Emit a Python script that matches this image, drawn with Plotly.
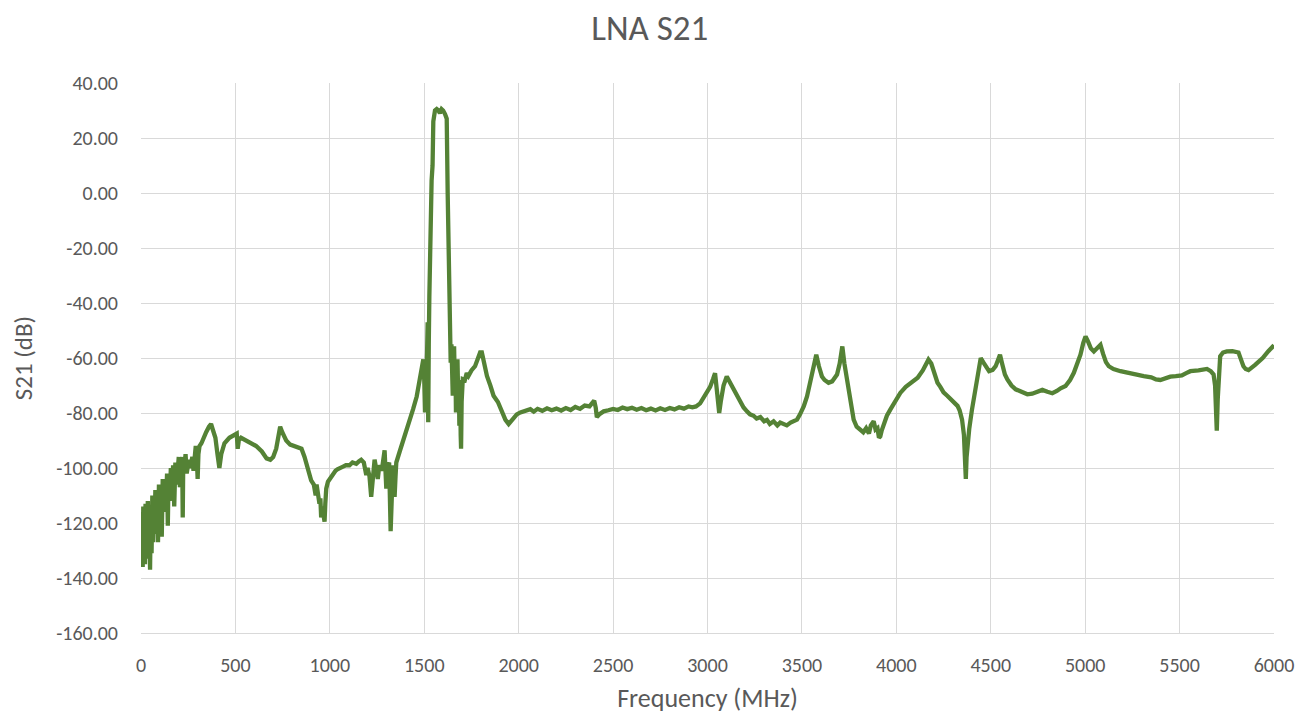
import plotly.graph_objects as go

freq_mhz = [
    0, 3, 6, 9, 12, 15, 18, 21, 24, 27, 30, 33, 36, 40, 44, 48, 52, 56, 60, 64,
    68, 72, 76, 80, 85, 90, 95, 100, 105, 110, 115, 120, 126, 132, 138, 142, 146, 152, 158, 164,
    170, 176, 182, 188, 194, 200, 206, 212, 218, 221, 224, 230, 236, 242, 248, 254, 260, 266, 272, 278,
    284, 290, 296, 300, 304, 310, 320, 330, 345, 360, 371, 380, 394, 405, 415, 425, 442, 468, 490, 507,
    512, 518, 530, 560, 590, 610, 640, 665, 685, 700, 716, 728, 737, 748, 769, 790, 810, 835, 850, 866,
    885, 901, 915, 925, 930, 937, 945, 950, 954, 960, 965, 972, 976, 981, 990, 1000, 1016, 1030, 1040, 1051,
    1070, 1085, 1104, 1120, 1140, 1155, 1166, 1180, 1193, 1200, 1210, 1219, 1225, 1237, 1245, 1254, 1262, 1275, 1290, 1295,
    1299, 1305, 1314, 1322, 1328, 1334, 1340, 1343, 1348, 1352, 1370, 1387, 1400, 1420, 1441, 1460, 1477, 1490, 1495, 1500,
    1504, 1508, 1512, 1515, 1518, 1521, 1524, 1527, 1532, 1534, 1539, 1544, 1548, 1557, 1566, 1575, 1583, 1592, 1600, 1610,
    1619, 1624, 1628, 1633, 1637, 1640, 1644, 1648, 1651, 1655, 1658, 1662, 1665, 1668, 1672, 1676, 1680, 1683, 1686, 1690,
    1693, 1695, 1698, 1701, 1704, 1715, 1725, 1734, 1750, 1769, 1785, 1796, 1805, 1820, 1832, 1850, 1867, 1890, 1911, 1930,
    1947, 1960, 1973, 1990, 2009, 2040, 2062, 2080, 2100, 2125, 2150, 2175, 2200, 2225, 2250, 2275, 2300, 2325, 2350, 2375,
    2390, 2400, 2408, 2414, 2430, 2450, 2475, 2500, 2525, 2550, 2575, 2600, 2625, 2650, 2675, 2700, 2725, 2750, 2775, 2800,
    2825, 2850, 2875, 2900, 2920, 2939, 2961, 2980, 3002, 3014, 3030, 3040, 3050, 3062, 3070, 3085, 3102, 3120, 3138, 3160,
    3191, 3210, 3225, 3244, 3260, 3280, 3300, 3315, 3330, 3350, 3370, 3385, 3403, 3420, 3440, 3455, 3474, 3490, 3510, 3527,
    3545, 3562, 3576, 3590, 3606, 3620, 3641, 3660, 3686, 3700, 3714, 3725, 3739, 3755, 3774, 3790, 3809, 3825, 3840, 3855,
    3865, 3880, 3890, 3900, 3908, 3915, 3922, 3933, 3950, 3968, 3990, 4021, 4050, 4092, 4113, 4140, 4170, 4185, 4200, 4218,
    4233, 4250, 4271, 4290, 4310, 4324, 4335, 4348, 4358, 4364, 4368, 4372, 4378, 4386, 4400, 4412, 4430, 4447, 4460, 4475,
    4491, 4510, 4526, 4540, 4549, 4560, 4575, 4588, 4610, 4632, 4660, 4694, 4720, 4750, 4773, 4800, 4826, 4850, 4870, 4896,
    4920, 4940, 4960, 4975, 4990, 5002, 5015, 5030, 5046, 5065, 5081, 5095, 5110, 5125, 5150, 5187, 5230, 5270, 5310, 5350,
    5375, 5398, 5425, 5451, 5480, 5512, 5535, 5557, 5600, 5645, 5665, 5680, 5688, 5693, 5697, 5702, 5708, 5715, 5730, 5750,
    5780, 5812, 5825, 5838, 5850, 5865, 5900, 5940, 5970, 6000,
]

s21_db = [
    -116, -132, -118, -136, -114, -130, -120, -135, -113, -128, -117, -133, -112, -126, -119, -137, -114, -131, -110, -127,
    -112, -124, -108, -121, -109, -127, -106, -118, -110, -125, -104, -116, -106, -113, -102, -121, -103, -112, -100, -108,
    -99, -114, -98, -106, -101, -96, -107, -97, -96, -118, -96, -100, -95, -102, -99, -97, -100, -98, -96, -101,
    -94, -92, -97, -104, -95, -92, -91, -89, -87, -85, -84, -86, -89, -95, -100, -95, -91, -89, -88, -87.5,
    -93, -90, -89, -90, -91, -92, -94, -96.5, -97, -96, -93, -88, -85, -87, -90, -91.5, -92, -92.5, -93, -96,
    -100.5, -104.5, -106, -110, -106, -109, -113, -111, -118, -114, -117, -119.5, -113, -107.5, -105, -104, -102, -101, -100.5, -100,
    -99.5, -99, -99, -98, -98.5, -97.5, -97, -98, -102.6, -100, -103, -110.5, -104, -97, -100, -104, -99, -101, -93.6, -100,
    -107.5, -100, -98, -123, -105, -99, -104, -110.5, -103, -98, -94, -90.6, -88, -83, -78.6, -74, -67.7, -63, -60.5, -68,
    -79.8, -70, -65, -58, -47, -83.4, -55, -37.6, -10, 1, 4.6, 10, 26, 30, 30.5, 30, 29, 30.5, 30, 28.7,
    27, 0, -14.7, -30, -43.6, -61.7, -55, -70, -73.7, -62, -55.7, -70, -62, -79.8, -66, -60.5, -75, -68, -84.6, -70,
    -88, -93, -76, -70, -67.7, -68, -65.5, -66.5, -64.5, -63, -60, -58, -58, -63, -66.5, -70, -73.7, -76, -79.8, -82.5,
    -84, -83, -82, -80.5, -79.8, -79, -78.6, -79.5, -78.5, -79.2, -78.3, -79.0, -78.4, -79.1, -78.2, -78.9, -77.8, -78.5, -77.3, -77.6,
    -76.5, -75.5, -78, -81.5, -80.3, -79.4, -79.0, -78.5, -78.9, -78.0, -78.6, -78.1, -78.8, -78.2, -79.0, -78.4, -79.1, -78.3, -78.9, -78.2,
    -78.7, -77.9, -78.4, -77.6, -77.9, -77.6, -76.5, -74.5, -72, -70.5, -67.5, -65.5, -72, -80, -76, -70, -66.7, -69, -71.5, -74.5,
    -78, -79.5, -80.5, -81, -82, -81.5, -83, -82.5, -84, -83, -84.5, -83.5, -84.2, -84.5, -83.5, -83, -82.4, -80.5, -77.5, -74,
    -69, -64.2, -58.8, -63, -66.7, -68, -69, -68.5, -66, -62, -55.8, -62, -67.9, -74, -82.4, -85, -86, -87, -85.5, -87.5,
    -84.5, -83, -86, -85.5, -89, -88.5, -86.5, -84, -81, -78.8, -76, -72.7, -70.5, -68.5, -67.2, -64.5, -60.6, -62, -65.5, -69,
    -70.5, -72.5, -73.8, -75, -76, -77.4, -79, -82.4, -88, -95, -104, -96, -90, -85.8, -79, -73.8, -66, -60, -61.5, -63.5,
    -64.8, -64.3, -63, -60.5, -58.8, -62, -66, -67.8, -70, -71.4, -72.4, -73.2, -73, -72.3, -71.6, -72.3, -72.8, -72, -71, -70.2,
    -68, -65.4, -61.5, -58.8, -54.5, -52.2, -54, -56.5, -57.6, -56, -55.2, -58.5, -61.5, -63, -64, -64.8, -65.5, -66, -66.6, -67,
    -67.8, -68, -67.2, -66.8, -66.6, -66.3, -65.5, -64.8, -64.5, -64, -64.8, -66, -70, -78, -86.4, -75, -64, -59.4, -58, -57.6,
    -57.5, -58, -60.5, -63, -64, -64.4, -62.5, -60, -57.5, -55.4,
]

x_ticks = [0, 500, 1000, 1500, 2000, 2500, 3000, 3500, 4000, 4500, 5000, 5500, 6000]
y_ticks = [40, 20, 0, -20, -40, -60, -80, -100, -120, -140, -160]

FONT = "Carlito, Calibri, Lato, sans-serif"
TXT = "#595959"
GRID = "#d9d9d9"

fig = go.Figure()
fig.add_trace(go.Scatter(
    x=freq_mhz, y=s21_db, mode="lines",
    line=dict(color="#548235", width=4.3),
    showlegend=False,
))

fig.update_layout(
    width=1299, height=706,
    margin=dict(l=133, r=33, t=75, b=81),
    paper_bgcolor="white", plot_bgcolor="white",
    font=dict(family=FONT, color=TXT, size=20),
    title=dict(text="LNA S21", x=0.494, xref="container", y=0.972, yref="container",
               xanchor="center", yanchor="middle",
               font=dict(family=FONT, size=35, color=TXT)),
)
fig.update_xaxes(
    range=[0, 6000], tickvals=x_ticks, ticktext=[str(v) for v in x_ticks],
    showgrid=True, gridcolor=GRID, gridwidth=1.3,
    showline=True, linecolor=GRID, linewidth=1.3, zeroline=False,
    ticks="", ticklabelstandoff=14, automargin=False,
    title=dict(text="Frequency (MHz)", font=dict(size=26, color=TXT), standoff=28),
    tickfont=dict(size=20, color=TXT),
)
fig.update_yaxes(
    range=[-160, 40], tickvals=y_ticks, ticktext=[f"{v:.2f}" for v in y_ticks],
    showgrid=True, gridcolor=GRID, gridwidth=1.3,
    showline=False, zeroline=False, ticks="", ticklabelstandoff=22, automargin=False,
    title=dict(text="S21 (dB)", font=dict(size=25, color=TXT), standoff=16),
    tickfont=dict(size=20, color=TXT),
)

fig.write_html("out.html")
